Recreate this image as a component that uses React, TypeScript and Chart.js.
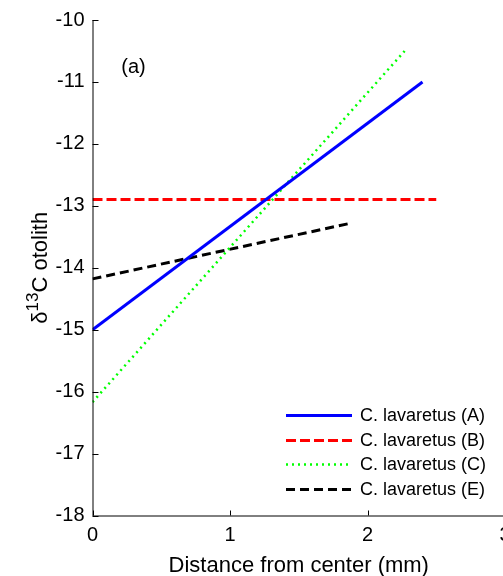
import React, { useEffect, useRef } from "react";
import { Chart, registerables } from "chart.js";

Chart.register(...registerables);

// ---- data ----
const seriesLabels = ["C. lavaretus (A)", "C. lavaretus (B)", "C. lavaretus (C)", "C. lavaretus (E)"];
const distA = [0, 2.4];
const valA = [-15, -11];
const distB = [0, 2.5];
const valB = [-12.9, -12.9];
const distC = [0, 2.27];
const valC = [-16.17, -10.5];
const distE = [0, 1.88];
const valE = [-14.18, -13.28];
const xTicks = [0, 1, 2, 3];
const yTicks = [-18, -17, -16, -15, -14, -13, -12, -11, -10];
const xTitle = "Distance from center (mm)";
const panelTag = "(a)";

const FONT = "'Liberation Sans', Arial, Helvetica, sans-serif";

const toPts = (xs: number[], ys: number[]) => xs.map((x, i) => ({ x, y: ys[i] }));

const decorPlugin = {
  id: "decor",
  afterDraw(chart: any) {
    const { ctx, chartArea, scales } = chart;
    const xs = scales.x;
    const ys = scales.y;
    const L = chartArea.left;
    const B = chartArea.bottom;
    ctx.save();
    // axes
    ctx.strokeStyle = "#000";
    ctx.lineWidth = 1;
    ctx.setLineDash([]);
    ctx.beginPath();
    ctx.moveTo(L + 0.5, chartArea.top);
    ctx.lineTo(L + 0.5, B + 0.5);
    ctx.lineTo(chartArea.right + 20, B + 0.5);
    ctx.stroke();
    // inward ticks
    ctx.beginPath();
    yTicks.forEach((v) => {
      const py = Math.round(ys.getPixelForValue(v)) + 0.5;
      ctx.moveTo(L, py);
      ctx.lineTo(L + 6, py);
    });
    xTicks.forEach((v) => {
      const px = Math.round(xs.getPixelForValue(v)) + 0.5;
      ctx.moveTo(px, B);
      ctx.lineTo(px, B - 5);
    });
    ctx.stroke();

    // x title
    ctx.fillStyle = "#000";
    ctx.font = `22px ${FONT}`;
    ctx.textAlign = "center";
    ctx.textBaseline = "alphabetic";
    ctx.fillText(xTitle, (chartArea.left + chartArea.right) / 2, 572);

    // y title with superscript
    const mainF = `22px ${FONT}`;
    const supF = `17px ${FONT}`;
    const segs = [
      { t: "\u03b4", f: mainF, up: 0 },
      { t: "13", f: supF, up: 9 },
      { t: "C otolith", f: mainF, up: 0 },
    ];
    let total = 0;
    segs.forEach((s) => {
      ctx.font = s.f;
      total += ctx.measureText(s.t).width;
    });
    ctx.save();
    ctx.translate(47, (chartArea.top + chartArea.bottom) / 2);
    ctx.rotate(-Math.PI / 2);
    ctx.textAlign = "left";
    let cx = -total / 2;
    segs.forEach((s) => {
      ctx.font = s.f;
      ctx.fillText(s.t, cx, -s.up);
      cx += ctx.measureText(s.t).width;
    });
    ctx.restore();

    // panel tag
    ctx.font = `20px ${FONT}`;
    ctx.textAlign = "center";
    ctx.textBaseline = "middle";
    ctx.fillText(panelTag, L + 41, 67);

    // legend
    const rowY0 = B - 100.5;
    const gap = 24.5;
    const lx0 = chartArea.right - 219;
    const lx1 = chartArea.right - 153;
    chart.data.datasets.forEach((ds: any, i: number) => {
      const y = Math.round(rowY0 + i * gap) + 0.5;
      ctx.strokeStyle = ds.borderColor;
      ctx.lineWidth = ds.borderWidth;
      ctx.setLineDash(ds.borderDash || []);
      ctx.lineCap = "butt";
      ctx.beginPath();
      ctx.moveTo(lx0, y);
      ctx.lineTo(lx1, y);
      ctx.stroke();
      ctx.setLineDash([]);
      ctx.fillStyle = "#000";
      ctx.font = `18px ${FONT}`;
      ctx.textAlign = "left";
      ctx.textBaseline = "middle";
      ctx.fillText(ds.label, lx1 + 8, y + 1);
    });
    ctx.restore();
  },
};

export default function App() {
  const ref = useRef<HTMLCanvasElement | null>(null);
  useEffect(() => {
    if (!ref.current) return;
    const chart = new Chart(ref.current, {
      type: "line",
      data: {
        datasets: [
          { label: seriesLabels[0], data: toPts(distA, valA), borderColor: "#0000ff", borderWidth: 3, pointRadius: 0, borderDash: [] },
          { label: seriesLabels[1], data: toPts(distB, valB), borderColor: "#ff0000", borderWidth: 3, pointRadius: 0, borderDash: [10, 4] },
          { label: seriesLabels[2], data: toPts(distC, valC), borderColor: "#00ff00", borderWidth: 2.5, pointRadius: 0, borderDash: [2, 4] },
          { label: seriesLabels[3], data: toPts(distE, valE), borderColor: "#000000", borderWidth: 3, pointRadius: 0, borderDash: [9, 5] },
        ] as any,
      },
      options: {
        responsive: false,
        animation: false,
        layout: { padding: { left: 0, top: 14, right: 15, bottom: 0 } },
        plugins: { legend: { display: false }, tooltip: { enabled: false } },
        scales: {
          x: {
            type: "linear",
            min: 0,
            max: 3,
            afterBuildTicks: (s: any) => { s.ticks = xTicks.map((v) => ({ value: v })); },
            afterFit: (s: any) => { s.height = 60.5; },
            grid: { display: false, drawTicks: false },
            border: { display: false },
            ticks: { padding: 8, color: "#000", font: { family: FONT, size: 20 }, maxRotation: 0 },
          },
          y: {
            type: "linear",
            min: -18,
            max: -10,
            afterBuildTicks: (s: any) => { s.ticks = yTicks.map((v) => ({ value: v })); },
            afterFit: (s: any) => { s.width = 92.5; },
            grid: { display: false, drawTicks: false },
            border: { display: false },
            ticks: { padding: 8, color: "#000", font: { family: FONT, size: 20 } },
          },
        },
      },
      plugins: [decorPlugin],
    } as any);
    return () => chart.destroy();
  }, []);
  return (
    <div style={{ position: "fixed", left: 0, top: 0, width: 503, height: 576, overflow: "hidden", background: "#fff" }}>
      <canvas ref={ref} width={520} height={576} style={{ width: 520, height: 576, display: "block" }} />
    </div>
  );
}
